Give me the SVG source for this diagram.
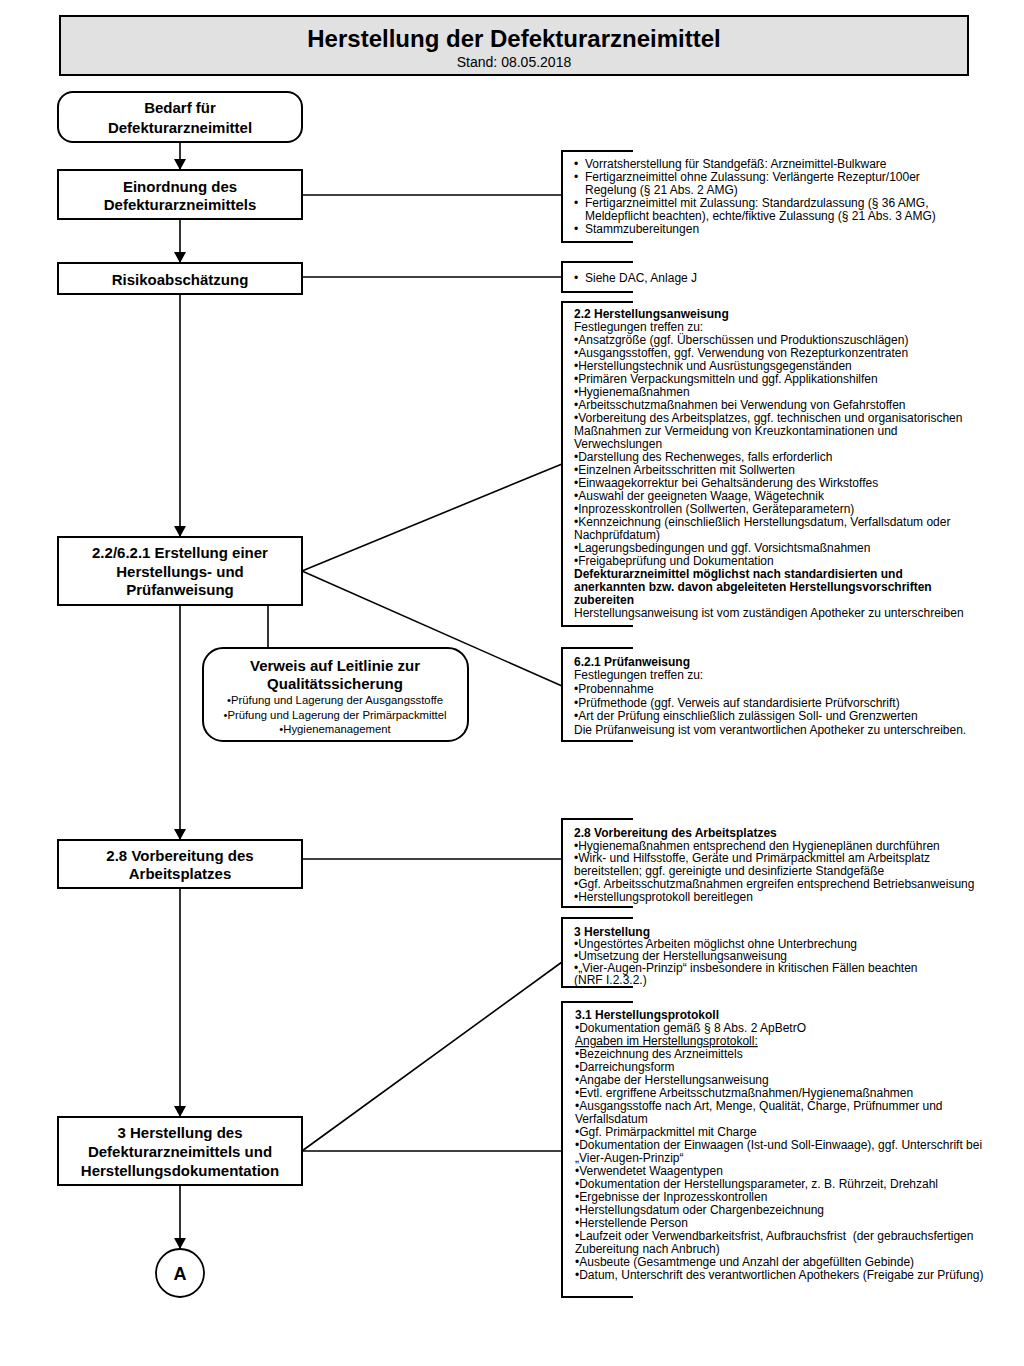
<svg xmlns="http://www.w3.org/2000/svg" width="1024" height="1366" viewBox="0 0 1024 1366">
<defs>
<style>
.box{fill:#fff;stroke:#000;stroke-width:2}
.br{fill:none;stroke:#000;stroke-width:2}
.ln{fill:none;stroke:#000;stroke-width:1.6}
.nt{font-family:"Liberation Sans",Arial,sans-serif;font-weight:bold;font-size:15px;text-anchor:middle;fill:#000}
.t{font-family:"Liberation Sans",Arial,sans-serif;font-size:12px;fill:#000}
.b{font-weight:bold}
.vt{font-family:"Liberation Sans",Arial,sans-serif;font-size:11.3px;text-anchor:middle;fill:#000}
</style>
<marker id="arr" markerUnits="userSpaceOnUse" markerWidth="12" markerHeight="12" refX="11" refY="6" orient="auto">
<path d="M0,0 L11,6 L0,12 z" fill="#000"/>
</marker>
</defs>
<rect width="1024" height="1366" fill="#fff"/>

<g id="title">
<rect x="60" y="16" width="908" height="59" fill="#e1e1e1" stroke="#000" stroke-width="2"/>
<text x="514" y="47" font-family="Liberation Sans,Arial,sans-serif" font-weight="bold" font-size="24" text-anchor="middle">Herstellung der Defekturarzneimittel</text>
<text x="514" y="67" font-family="Liberation Sans,Arial,sans-serif" font-size="14" text-anchor="middle">Stand: 08.05.2018</text>
</g>

<g id="connectors">
<line class="ln" x1="180" y1="142" x2="180" y2="170" marker-end="url(#arr)"/>
<line class="ln" x1="180" y1="219" x2="180" y2="263" marker-end="url(#arr)"/>
<line class="ln" x1="180" y1="294" x2="180" y2="537" marker-end="url(#arr)"/>
<line class="ln" x1="180" y1="605" x2="180" y2="840" marker-end="url(#arr)"/>
<line class="ln" x1="180" y1="888" x2="180" y2="1117" marker-end="url(#arr)"/>
<line class="ln" x1="180" y1="1185" x2="180" y2="1249" marker-end="url(#arr)"/>
<line class="ln" x1="268" y1="605" x2="268" y2="648"/>
<line class="ln" x1="302" y1="195" x2="562" y2="195"/>
<line class="ln" x1="302" y1="277" x2="562" y2="277"/>
<line class="ln" x1="302" y1="571" x2="562" y2="464"/>
<line class="ln" x1="302" y1="571" x2="562" y2="686"/>
<line class="ln" x1="302" y1="859" x2="562" y2="859"/>
<line class="ln" x1="302" y1="1151" x2="562" y2="962"/>
<line class="ln" x1="302" y1="1151" x2="562" y2="1151"/>
</g>

<g id="bedarf">
<rect class="box" x="58" y="92" width="244" height="50" rx="15"/>
<text class="nt" x="180" y="113">Bedarf für</text>
<text class="nt" x="180" y="133">Defekturarzneimittel</text>
</g>

<g id="einordnung">
<rect class="box" x="58" y="170" width="244" height="49"/>
<text class="nt" x="180" y="192">Einordnung des</text>
<text class="nt" x="180" y="210">Defekturarzneimittels</text>
</g>

<g id="risiko">
<rect class="box" x="58" y="263" width="244" height="31"/>
<text class="nt" x="180" y="285">Risikoabschätzung</text>
</g>

<g id="erstellung">
<rect class="box" x="58" y="537" width="244" height="68"/>
<text class="nt" x="180" y="558">2.2/6.2.1 Erstellung einer</text>
<text class="nt" x="180" y="577">Herstellungs- und</text>
<text class="nt" x="180" y="595">Prüfanweisung</text>
</g>

<g id="verweis">
<rect class="box" x="203" y="648" width="265" height="93" rx="20"/>
<text class="nt" x="335" y="671">Verweis auf Leitlinie zur</text>
<text class="nt" x="335" y="689">Qualitätssicherung</text>
<text class="vt" x="335" y="704">•Prüfung und Lagerung der Ausgangsstoffe</text>
<text class="vt" x="335" y="719">•Prüfung und Lagerung der Primärpackmittel</text>
<text class="vt" x="335" y="733">•Hygienemanagement</text>
</g>

<g id="vorbereitung">
<rect class="box" x="58" y="840" width="244" height="48"/>
<text class="nt" x="180" y="861">2.8 Vorbereitung des</text>
<text class="nt" x="180" y="879">Arbeitsplatzes</text>
</g>

<g id="herstellung">
<rect class="box" x="58" y="1117" width="244" height="68"/>
<text class="nt" x="180" y="1138">3 Herstellung des</text>
<text class="nt" x="180" y="1157">Defekturarzneimittels und</text>
<text class="nt" x="180" y="1176">Herstellungsdokumentation</text>
</g>

<g id="connectorA">
<circle cx="180" cy="1273" r="24" fill="#fff" stroke="#000" stroke-width="1.8"/>
<text class="nt" x="180" y="1280" style="font-size:18px">A</text>
</g>

<g id="note-einordnung">
<path class="br" d="M633,151 H562 V242 H633"/>
<g class="t">
<text x="574" y="168">•</text><text x="585" y="168">Vorratsherstellung für Standgefäß: Arzneimittel-Bulkware</text>
<text x="574" y="181">•</text><text x="585" y="181">Fertigarzneimittel ohne Zulassung: Verlängerte Rezeptur/100er</text>
<text x="585" y="194">Regelung (§ 21 Abs. 2 AMG)</text>
<text x="574" y="207">•</text><text x="585" y="207">Fertigarzneimittel mit Zulassung: Standardzulassung (§ 36 AMG,</text>
<text x="585" y="220">Meldepflicht beachten), echte/fiktive Zulassung (§ 21 Abs. 3 AMG)</text>
<text x="574" y="233">•</text><text x="585" y="233">Stammzubereitungen</text>
</g>
</g>

<g id="note-risiko">
<path class="br" d="M633,262 H562 V292 H633"/>
<g class="t">
<text x="574" y="282">•</text><text x="585" y="282">Siehe DAC, Anlage J</text>
</g>
</g>

<g id="note-herstellungsanweisung">
<path class="br" d="M633,302 H562 V626 H633"/>
<g class="t">
<text x="574" y="318" class="b">2.2 Herstellungsanweisung</text>
<text x="574" y="331">Festlegungen treffen zu:</text>
<text x="574" y="344">•Ansatzgröße (ggf. Überschüssen und Produktionszuschlägen)</text>
<text x="574" y="357">•Ausgangsstoffen, ggf. Verwendung von Rezepturkonzentraten</text>
<text x="574" y="370">•Herstellungstechnik und Ausrüstungsgegenständen</text>
<text x="574" y="383">•Primären Verpackungsmitteln und ggf. Applikationshilfen</text>
<text x="574" y="396">•Hygienemaßnahmen</text>
<text x="574" y="409">•Arbeitsschutzmaßnahmen bei Verwendung von Gefahrstoffen</text>
<text x="574" y="422">•Vorbereitung des Arbeitsplatzes, ggf. technischen und organisatorischen</text>
<text x="574" y="435">Maßnahmen zur Vermeidung von Kreuzkontaminationen und</text>
<text x="574" y="448">Verwechslungen</text>
<text x="574" y="461">•Darstellung des Rechenweges, falls erforderlich</text>
<text x="574" y="474">•Einzelnen Arbeitsschritten mit Sollwerten</text>
<text x="574" y="487">•Einwaagekorrektur bei Gehaltsänderung des Wirkstoffes</text>
<text x="574" y="500">•Auswahl der geeigneten Waage, Wägetechnik</text>
<text x="574" y="513">•Inprozesskontrollen (Sollwerten, Geräteparametern)</text>
<text x="574" y="526">•Kennzeichnung (einschließlich Herstellungsdatum, Verfallsdatum oder</text>
<text x="574" y="539">Nachprüfdatum)</text>
<text x="574" y="552">•Lagerungsbedingungen und ggf. Vorsichtsmaßnahmen</text>
<text x="574" y="565">•Freigabeprüfung und Dokumentation</text>
<text x="574" y="578" class="b">Defekturarzneimittel möglichst nach standardisierten und</text>
<text x="574" y="591" class="b">anerkannten bzw. davon abgeleiteten Herstellungsvorschriften</text>
<text x="574" y="604" class="b">zubereiten</text>
<text x="574" y="617">Herstellungsanweisung ist vom zuständigen Apotheker zu unterschreiben</text>
</g>
</g>

<g id="note-pruefanweisung">
<path class="br" d="M633,648 H562 V741 H633"/>
<g class="t">
<text x="574" y="666" class="b">6.2.1 Prüfanweisung</text>
<text x="574" y="679">Festlegungen treffen zu:</text>
<text x="574" y="693">•Probennahme</text>
<text x="574" y="707">•Prüfmethode (ggf. Verweis auf standardisierte Prüfvorschrift)</text>
<text x="574" y="720">•Art der Prüfung einschließlich zulässigen Soll- und Grenzwerten</text>
<text x="574" y="734">Die Prüfanweisung ist vom verantwortlichen Apotheker zu unterschreiben.</text>
</g>
</g>

<g id="note-arbeitsplatz">
<path class="br" d="M633,819 H562 V907 H633"/>
<g class="t">
<text x="574" y="837" class="b">2.8 Vorbereitung des Arbeitsplatzes</text>
<text x="574" y="850">•Hygienemaßnahmen entsprechend den Hygieneplänen durchführen</text>
<text x="574" y="862">•Wirk- und Hilfsstoffe, Geräte und Primärpackmittel am Arbeitsplatz</text>
<text x="574" y="875">bereitstellen; ggf. gereinigte und desinfizierte Standgefäße</text>
<text x="574" y="888">•Ggf. Arbeitsschutzmaßnahmen ergreifen entsprechend Betriebsanweisung</text>
<text x="574" y="901">•Herstellungsprotokoll bereitlegen</text>
</g>
</g>

<g id="note-herstellung">
<path class="br" d="M633,918 H562 V987 H633"/>
<g class="t">
<text x="574" y="936" class="b">3 Herstellung</text>
<text x="574" y="948">•Ungestörtes Arbeiten möglichst ohne Unterbrechung</text>
<text x="574" y="960">•Umsetzung der Herstellungsanweisung</text>
<text x="574" y="972">•„Vier-Augen-Prinzip“ insbesondere in kritischen Fällen beachten</text>
<text x="574" y="984">(NRF I.2.3.2.)</text>
</g>
</g>

<g id="note-protokoll">
<path class="br" d="M633,1002 H562 V1297 H633"/>
<g class="t">
<text x="575" y="1019" class="b">3.1 Herstellungsprotokoll</text>
<text x="575" y="1032">•Dokumentation gemäß § 8 Abs. 2 ApBetrO</text>
<text x="575" y="1045" text-decoration="underline">Angaben im Herstellungsprotokoll:</text>
<text x="575" y="1058">•Bezeichnung des Arzneimittels</text>
<text x="575" y="1071">•Darreichungsform</text>
<text x="575" y="1084">•Angabe der Herstellungsanweisung</text>
<text x="575" y="1097">•Evtl. ergriffene Arbeitsschutzmaßnahmen/Hygienemaßnahmen</text>
<text x="575" y="1110">•Ausgangsstoffe nach Art, Menge, Qualität, Charge, Prüfnummer und</text>
<text x="575" y="1123">Verfallsdatum</text>
<text x="575" y="1136">•Ggf. Primärpackmittel mit Charge</text>
<text x="575" y="1149">•Dokumentation der Einwaagen (Ist-und Soll-Einwaage), ggf. Unterschrift bei</text>
<text x="575" y="1162">„Vier-Augen-Prinzip“</text>
<text x="575" y="1175">•Verwendetet Waagentypen</text>
<text x="575" y="1188">•Dokumentation der Herstellungsparameter, z. B. Rührzeit, Drehzahl</text>
<text x="575" y="1201">•Ergebnisse der Inprozesskontrollen</text>
<text x="575" y="1214">•Herstellungsdatum oder Chargenbezeichnung</text>
<text x="575" y="1227">•Herstellende Person</text>
<text x="575" y="1240" xml:space="preserve">•Laufzeit oder Verwendbarkeitsfrist, Aufbrauchsfrist  (der gebrauchsfertigen</text>
<text x="575" y="1253">Zubereitung nach Anbruch)</text>
<text x="575" y="1266">•Ausbeute (Gesamtmenge und Anzahl der abgefüllten Gebinde)</text>
<text x="575" y="1279">•Datum, Unterschrift des verantwortlichen Apothekers (Freigabe zur Prüfung)</text>
</g>
</g>
</svg>
